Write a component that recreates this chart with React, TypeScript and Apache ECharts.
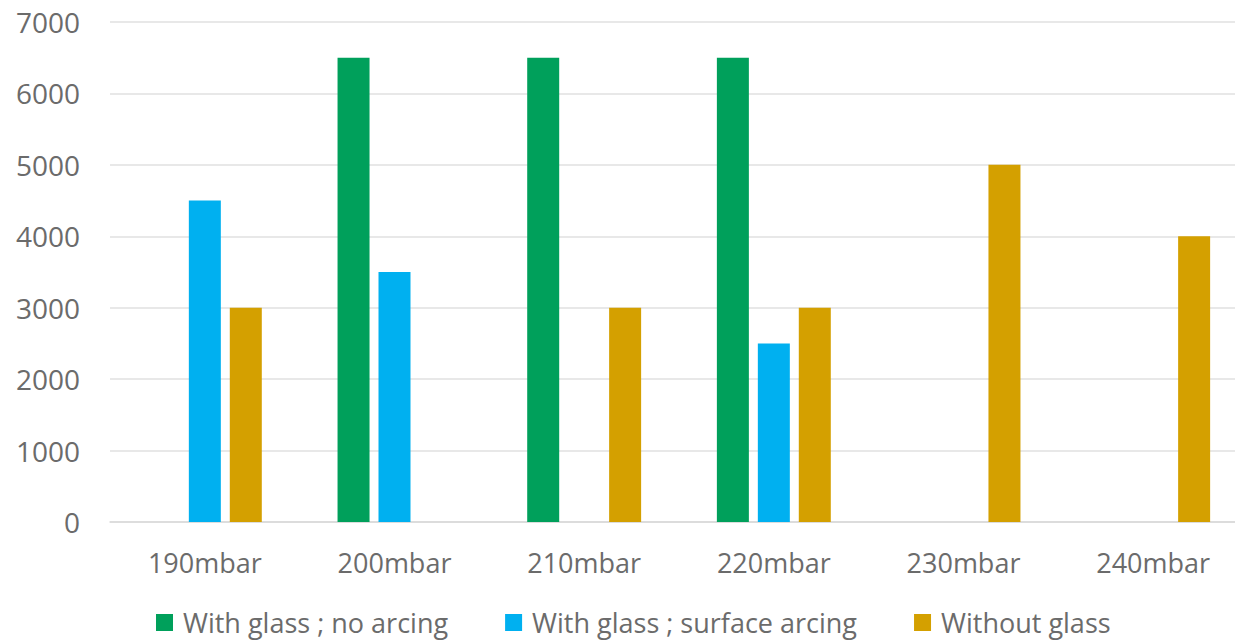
import React, { useEffect, useRef } from "react";
import * as echarts from "echarts";

const categories = ["190mbar", "200mbar", "210mbar", "220mbar", "230mbar", "240mbar"];
const noArcing = [null, 6500, 6500, 6500, null, null];
const surfaceArcing = [4500, 3500, null, 2500, null, null];
const withoutGlass = [3000, null, 3000, 3000, 5000, 4000];
const yTicks = { min: 0, max: 7000, interval: 1000 };

export default function App() {
  const ref = useRef<HTMLDivElement>(null);
  useEffect(() => {
    document.body.style.margin = "0";
    const chart = echarts.init(ref.current!, null, { renderer: "svg" });
    const font = "'Open Sans', 'Noto Sans', sans-serif";
    const textColor = "#6b6b6b";
    const mk = (name: string, data: (number | null)[], color: string) => ({
      name,
      type: "bar",
      data,
      barWidth: 32,
      barGap: "28%",
      itemStyle: { color },
    });
    chart.setOption({
      animation: false,
      backgroundColor: "#ffffff",
      grid: { left: 110, right: 0, top: 22, bottom: 119 },
      xAxis: {
        type: "category",
        data: categories,
        axisLine: { lineStyle: { color: "#d9d9d9", width: 1.5 } },
        axisTick: { show: false },
        axisLabel: { color: textColor, fontSize: 27, fontFamily: font, margin: 27 },
      },
      yAxis: {
        type: "value",
        min: yTicks.min,
        max: yTicks.max,
        interval: yTicks.interval,
        axisLine: { show: false },
        axisTick: { show: false },
        splitLine: { lineStyle: { color: "#e0e0e0", width: 1.5 } },
        axisLabel: {
          color: textColor,
          fontSize: 28,
          fontFamily: font,
          margin: 30,
          formatter: (v: number) => String(v),
        },
      },
      legend: {
        left: 156,
        top: 609,
        padding: 0,
        itemWidth: 17,
        itemHeight: 17,
        itemGap: 57,
        icon: "rect",
        textStyle: { color: textColor, fontSize: 27, fontFamily: font, padding: [0, 0, 0, 5] },
        data: ["With glass ; no arcing", "With glass ; surface arcing", "Without glass"],
      },
      series: [
        mk("With glass ; no arcing", noArcing, "#00A05B"),
        mk("With glass ; surface arcing", surfaceArcing, "#00B0F0"),
        mk("Without glass", withoutGlass, "#D4A000"),
      ],
    });
    return () => chart.dispose();
  }, []);
  return (
    <div
      style={{
        position: "fixed",
        left: 0,
        top: 0,
        width: 1235,
        height: 641,
        overflow: "hidden",
        background: "#ffffff",
      }}
    >
      <div ref={ref} style={{ width: 1248, height: 641 }} />
    </div>
  );
}
